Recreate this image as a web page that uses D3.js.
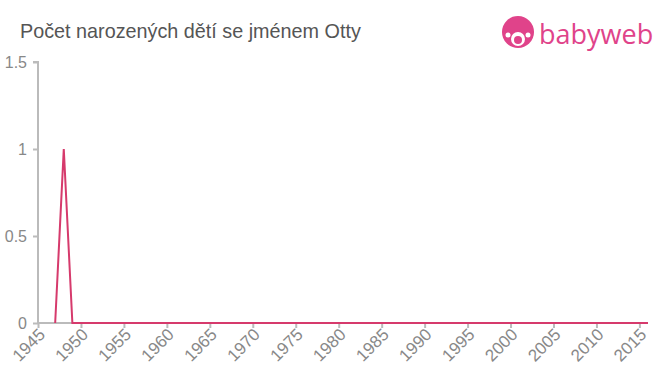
<!DOCTYPE html>
<html>
<head>
<meta charset="utf-8">
<script src="https://cdn.jsdelivr.net/npm/d3@7"></script>
<style>
  body { margin: 0; background: #fff; }
  svg { font-family: "Liberation Sans", Arial, sans-serif; }
</style>
</head>
<body>
<svg id="chart" width="660" height="375"></svg>
<script>
const years = d3.range(1947, 2017);
const values = years.map(y => (y === 1948 ? 1 : 0));
const yTicks = [0, 0.5, 1, 1.5];
const xTicks = d3.range(1945, 2016, 5);

const svg = d3.select('#chart');
const margin = { left: 38, right: 12, top: 62, bottom: 52 };
const width = 660, height = 375;

const x = d3.scaleLinear().domain([1945, 2016]).range([margin.left, width - margin.right]);
const y = d3.scaleLinear().domain([0, 1.5]).range([height - margin.bottom, margin.top]);

// title
svg.append('text')
    .attr('x', 20).attr('y', 38)
    .attr('font-size', 19.8).attr('fill', '#555')
    .text('Počet narozených dětí se jménem Otty');

// logo
const logo = svg.append('g').attr('transform', 'translate(518,32)');
logo.append('circle').attr('r', 16).attr('fill', '#e0438a');
logo.append('circle').attr('cx', 0).attr('cy', 7).attr('r', 7).attr('fill', '#fff');
logo.append('circle').attr('cx', 0).attr('cy', 8).attr('r', 4).attr('fill', '#e0438a');
logo.append('circle').attr('cx', -10).attr('cy', 3).attr('r', 2.5).attr('fill', '#fff');
logo.append('circle').attr('cx', 10).attr('cy', 3).attr('r', 2.5).attr('fill', '#fff');
svg.append('text')
    .attr('x', 539).attr('y', 44)
    .attr('font-size', 27).attr('fill', '#e0438a')
    .attr('font-family', '"Open Sans", sans-serif')
    .text('babyweb');

// y axis
const yAxis = svg.append('g')
    .attr('transform', `translate(${margin.left},0)`)
    .call(d3.axisLeft(y).tickValues(yTicks).tickSize(5).tickPadding(6).tickFormat(d => d));
yAxis.select('.domain').attr('stroke', '#bbb').attr('stroke-width', 2).attr('d', `M-5,${y(1.5)}H0V${y(0)}`);
yAxis.selectAll('.tick line').attr('stroke', '#bbb').attr('stroke-width', 2);
yAxis.selectAll('.tick text').attr('fill', '#888').attr('font-size', 16).attr('font-family', '"Liberation Sans", Arial, sans-serif');

// x axis
const xAxis = svg.append('g')
    .attr('transform', `translate(0,${y(0)})`)
    .call(d3.axisBottom(x).tickValues(xTicks).tickSize(5).tickFormat(d3.format('d')));
xAxis.select('.domain').attr('stroke', '#bbb').attr('stroke-width', 2).attr('d', `M${margin.left},0H${width - margin.right}`);
xAxis.selectAll('.tick line').attr('stroke', '#bbb').attr('stroke-width', 2);
xAxis.selectAll('.tick text')
    .attr('fill', '#888').attr('font-size', 17)
    .attr('font-family', '"Liberation Sans", Arial, sans-serif')
    .attr('text-anchor', 'end')
    .attr('dy', null)
    .attr('transform', 'translate(2,7) rotate(-45)');

// line
svg.append('path')
    .datum(years.map((yr, i) => [yr, values[i]]))
    .attr('fill', 'none')
    .attr('stroke', '#d63a6c')
    .attr('stroke-width', 2)
    .attr('d', d3.line().x(d => x(d[0])).y(d => y(d[1])));
</script>
</body>
</html>
